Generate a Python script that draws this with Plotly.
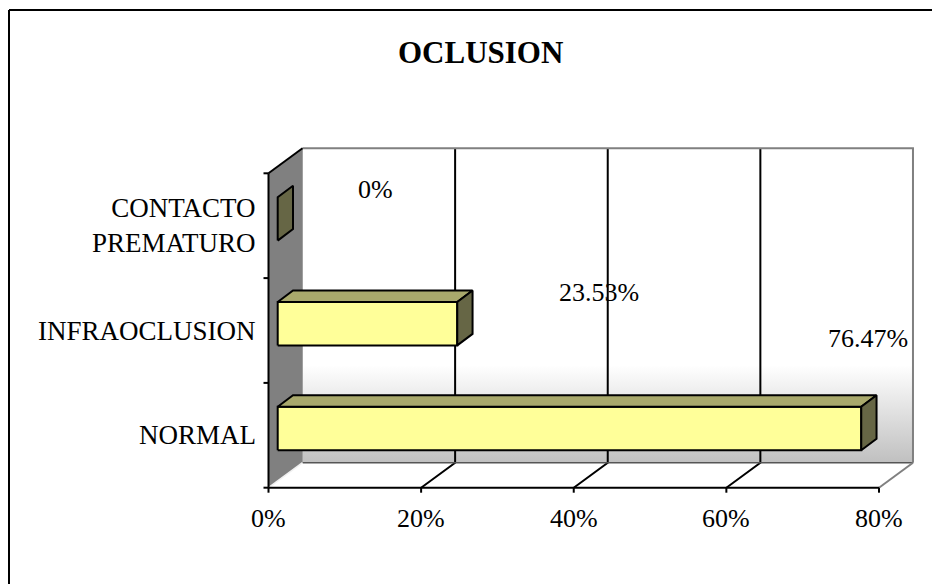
import plotly.graph_objects as go

# ---------------- data ----------------
categories = ["NORMAL", "INFRAOCLUSION", "CONTACTO PREMATURO"]
values = [76.47, 23.53, 0.0]
value_labels = ["76.47%", "23.53%", "0%"]
x_ticks = [0, 20, 40, 60, 80]
x_tick_labels = ["0%", "20%", "40%", "60%", "80%"]
title_text = "OCLUSION"

# ---------------- layout / style constants ----------------
W, H = 932, 584
X0_PX, PX_PER_PCT = 268.5, 7.631
Y0_PX, PX_PER_BAND = 487.7, 104.8
XMAX = 80
NB = len(categories)

def px_dx(p):
    return p / PX_PER_PCT

def px_dy(p):
    return p / PX_PER_BAND

DX, DY = px_dx(34), px_dy(25)          # full depth of the 3-D box
FDX, FDY = px_dx(9.2), px_dy(6.8)      # bar front face depth
BDX, BDY = px_dx(24.5), px_dy(18.3)    # bar back face depth
HALF_H = px_dy(21.7)                   # half bar height
FONT = "Liberation Serif"

# data-label offsets (relative to bar end / band centre), in data units
label_offsets = [(2.13, 0.926), (19.78, 0.367), (13.96, 0.341)]

YELLOW = "#FFFF99"
TOPC = "#A9A96C"
SIDEC = "#666645"

fig = go.Figure()

def poly(xs, ys, fill=None, line="black", lw=0, **kw):
    fig.add_trace(go.Scatter(
        x=list(xs) + [xs[0]], y=list(ys) + [ys[0]], mode="lines",
        fill="toself" if fill else None, fillcolor=fill,
        line=dict(color=line, width=lw), hoverinfo="skip", showlegend=False, **kw))

def seg(xs, ys, color="black", lw=1.5):
    fig.add_trace(go.Scatter(x=xs, y=ys, mode="lines",
                             line=dict(color=color, width=lw),
                             hoverinfo="skip", showlegend=False))

# back wall
poly([DX, XMAX + DX, XMAX + DX, DX], [DY, DY, NB + DY, NB + DY], fill="#FFFFFF")
# gradient at bottom of back wall
gy = px_dy(Y0_PX - 365)
fig.add_trace(go.Scatter(
    x=[DX, XMAX + DX, XMAX + DX, DX, DX], y=[DY, DY, gy, gy, DY], mode="lines",
    fill="toself", line=dict(width=0), hoverinfo="skip", showlegend=False,
    fillgradient=dict(type="vertical", start=DY, stop=gy,
                      colorscale=[[0, "#C0C0C0"], [1, "#FFFFFF"]])))
# side wall
poly([0, DX, DX, 0], [0, DY, NB + DY, NB], fill="#808080")
# floor
poly([0, XMAX, XMAX + DX, DX], [0, 0, DY, DY], fill="#FFFFFF")

# gridlines (back wall + floor)
for t in x_ticks[1:-1]:
    seg([t + DX, t + DX, t], [NB + DY, DY, 0], "black", 2)

# box edges
seg([DX, XMAX + DX, XMAX + DX], [NB + DY, NB + DY, DY], "#808080", 2)
seg([DX, XMAX + DX], [DY, DY], "#555555", 1.5)
seg([XMAX, XMAX + DX], [0, DY], "#808080", 2)
seg([0, DX], [0, DY], "#F0F0F0", 1.5)
seg([DX, DX], [DY, NB + DY], "#A0A0A0", 1)
seg([0, DX], [NB, NB + DY], "black", 2)
seg([0, XMAX], [0, 0], "black", 2)
seg([0, 0], [0, NB], "black", 2)

# ticks
tl_x = px_dy(5)
for t in x_ticks:
    seg([t, t], [0, -tl_x], "black", 2)
for b in range(NB + 1):
    seg([0, -px_dx(5)], [b, b], "black", 2)

# bars
for i, v in enumerate(values):
    c = i + 0.5
    x0, x1 = FDX, v + FDX
    y0, y1 = c - HALF_H + FDY, c + HALF_H + FDY
    ddx, ddy = BDX - FDX, BDY - FDY
    if v > 0:
        poly([x0, x1, x1, x0], [y0, y0, y1, y1], fill=YELLOW, lw=2)
        poly([x0, x1, x1 + ddx, x0 + ddx], [y1, y1, y1 + ddy, y1 + ddy], fill=TOPC, lw=2)
    poly([x1, x1 + ddx, x1 + ddx, x1], [y0, y0 + ddy, y1 + ddy, y1], fill=SIDEC, lw=2)

annotations = []
# data labels
for i, (v, lab) in enumerate(zip(values, value_labels)):
    ox, oy = label_offsets[i]
    annotations.append(dict(x=v + ox, y=i + 0.5 + oy, text=lab, showarrow=False,
                            xanchor="center", yanchor="middle",
                            font=dict(family=FONT, size=26, color="black")))
# category labels
for i, cat in enumerate(categories):
    words = cat.split(" ")
    txt = cat if len(words) == 1 else "<br>".join(words)
    annotations.append(dict(x=0, y=i + 0.5, text=txt, showarrow=False,
                            xanchor="right", yanchor="middle", align="right",
                            xshift=-11,
                            font=dict(family=FONT, size=27, color="black")))
# x tick labels
for t, lab in zip(x_ticks, x_tick_labels):
    annotations.append(dict(x=t, y=0, text=lab, showarrow=False,
                            xanchor="center", yanchor="middle", yshift=-31,
                            font=dict(family=FONT, size=26, color="black")))
# title
annotations.append(dict(x=480 / W, y=1 - 52 / H, xref="paper", yref="paper",
                        text="<b>" + title_text + "</b>", showarrow=False,
                        xanchor="center", yanchor="middle",
                        font=dict(family=FONT, size=31, color="black")))

shapes = [
    dict(type="line", xref="paper", yref="paper", x0=9 / W, x1=1, y0=1 - 10 / H, y1=1 - 10 / H,
         line=dict(color="black", width=2)),
    dict(type="line", xref="paper", yref="paper", x0=9 / W, x1=9 / W, y0=0, y1=1 - 10 / H,
         line=dict(color="black", width=2)),
]

fig.update_layout(
    width=W, height=H, margin=dict(l=0, r=0, t=0, b=0),
    paper_bgcolor="white", plot_bgcolor="white",
    xaxis=dict(range=[-X0_PX / PX_PER_PCT, (W - X0_PX) / PX_PER_PCT], visible=False, fixedrange=True),
    yaxis=dict(range=[(Y0_PX - H) / PX_PER_BAND, Y0_PX / PX_PER_BAND], visible=False, fixedrange=True),
    annotations=annotations, shapes=shapes, showlegend=False,
)

fig.write_html("out.html", config={"displayModeBar": False})
